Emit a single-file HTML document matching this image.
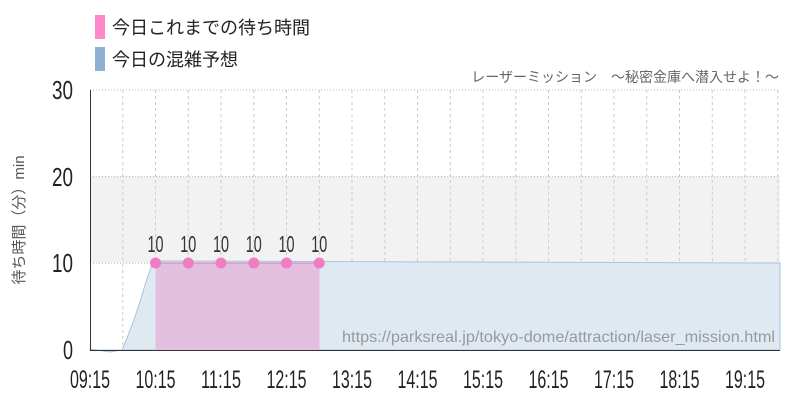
<!DOCTYPE html><html><head><meta charset="utf-8"><style>body{margin:0;background:#fff}svg{font-family:"Liberation Sans","Noto Sans CJK JP",sans-serif}</style></head><body>
<svg width="800" height="400" xmlns="http://www.w3.org/2000/svg">
<rect x="95" y="15" width="10" height="24" fill="#ff88c8"/>
<text x="112" y="34" font-size="18" fill="#222">今日これまでの待ち時間</text>
<rect x="95" y="47" width="10" height="24" fill="#8fb0d0"/>
<text x="112" y="66" font-size="18" fill="#222">今日の混雑予想</text>
<text x="779" y="82" font-size="14" fill="#666" text-anchor="end">レーザーミッション　～秘密金庫へ潜入せよ！～</text>
<rect x="90" y="176" width="690" height="87" fill="#f2f2f2"/>
<g stroke="#ccc" stroke-dasharray="3,3" stroke-width="1">
<line x1="122.8" y1="90" x2="122.8" y2="350"/><line x1="155.5" y1="90" x2="155.5" y2="350"/><line x1="188.3" y1="90" x2="188.3" y2="350"/><line x1="221" y1="90" x2="221" y2="350"/><line x1="253.8" y1="90" x2="253.8" y2="350"/><line x1="286.5" y1="90" x2="286.5" y2="350"/><line x1="319.3" y1="90" x2="319.3" y2="350"/><line x1="352" y1="90" x2="352" y2="350"/><line x1="384.8" y1="90" x2="384.8" y2="350"/><line x1="417.5" y1="90" x2="417.5" y2="350"/><line x1="450.3" y1="90" x2="450.3" y2="350"/><line x1="483" y1="90" x2="483" y2="350"/><line x1="515.8" y1="90" x2="515.8" y2="350"/><line x1="548.5" y1="90" x2="548.5" y2="350"/><line x1="581.3" y1="90" x2="581.3" y2="350"/><line x1="614" y1="90" x2="614" y2="350"/><line x1="646.8" y1="90" x2="646.8" y2="350"/><line x1="679.5" y1="90" x2="679.5" y2="350"/><line x1="712.3" y1="90" x2="712.3" y2="350"/><line x1="745" y1="90" x2="745" y2="350"/><line x1="777.8" y1="90" x2="777.8" y2="350"/>
</g>
<g stroke="#bbb" stroke-dasharray="1,2"><line x1="90" y1="90" x2="780" y2="90"/><line x1="90" y1="176.7" x2="780" y2="176.7"/><line x1="90" y1="263.3" x2="780" y2="263.3"/></g>
<path d="M90,349 L110,352 L122,350 Q135,320 145,285 L152,264 L160,261 L780,263 L780,350 L90,350 Z" fill="#dfe9f2" stroke="#a9c4dc" stroke-width="1"/>
<rect x="155.5" y="263" width="164" height="87" fill="#e2bedf"/>
<line x1="155.5" y1="263" x2="319.3" y2="263" stroke="#d080c0" stroke-width="1"/>
<g fill="#f07cc4"><circle cx="155.5" cy="263" r="5.5"/><circle cx="188.3" cy="263" r="5.5"/><circle cx="221" cy="263" r="5.5"/><circle cx="253.8" cy="263" r="5.5"/><circle cx="286.5" cy="263" r="5.5"/><circle cx="319.3" cy="263" r="5.5"/></g>
<g font-size="23" fill="#333" text-anchor="middle"><text x="155.5" y="252" textLength="16" lengthAdjust="spacingAndGlyphs">10</text><text x="188.3" y="252" textLength="16" lengthAdjust="spacingAndGlyphs">10</text><text x="221" y="252" textLength="16" lengthAdjust="spacingAndGlyphs">10</text><text x="253.8" y="252" textLength="16" lengthAdjust="spacingAndGlyphs">10</text><text x="286.5" y="252" textLength="16" lengthAdjust="spacingAndGlyphs">10</text><text x="319.3" y="252" textLength="16" lengthAdjust="spacingAndGlyphs">10</text></g>
<text x="342" y="342" font-size="16" fill="#999" textLength="433" lengthAdjust="spacingAndGlyphs">https://parksreal.jp/tokyo-dome/attraction/laser_mission.html</text>
<line x1="90.5" y1="90" x2="90.5" y2="350" stroke="#333"/>
<line x1="90" y1="350.5" x2="780" y2="350.5" stroke="#333"/>
<g font-size="26" fill="#222" text-anchor="end"><text x="73" y="99" textLength="21" lengthAdjust="spacingAndGlyphs">30</text><text x="73" y="186" textLength="21" lengthAdjust="spacingAndGlyphs">20</text><text x="73" y="272" textLength="21" lengthAdjust="spacingAndGlyphs">10</text><text x="73" y="359" textLength="10" lengthAdjust="spacingAndGlyphs">0</text></g>
<g font-size="25" fill="#222" text-anchor="middle"><text x="90" y="388" textLength="40" lengthAdjust="spacingAndGlyphs">09:15</text><text x="155.5" y="388" textLength="40" lengthAdjust="spacingAndGlyphs">10:15</text><text x="221" y="388" textLength="40" lengthAdjust="spacingAndGlyphs">11:15</text><text x="286.5" y="388" textLength="40" lengthAdjust="spacingAndGlyphs">12:15</text><text x="352" y="388" textLength="40" lengthAdjust="spacingAndGlyphs">13:15</text><text x="417.5" y="388" textLength="40" lengthAdjust="spacingAndGlyphs">14:15</text><text x="483" y="388" textLength="40" lengthAdjust="spacingAndGlyphs">15:15</text><text x="548.5" y="388" textLength="40" lengthAdjust="spacingAndGlyphs">16:15</text><text x="614" y="388" textLength="40" lengthAdjust="spacingAndGlyphs">17:15</text><text x="679.5" y="388" textLength="40" lengthAdjust="spacingAndGlyphs">18:15</text><text x="745" y="388" textLength="40" lengthAdjust="spacingAndGlyphs">19:15</text></g>
<text transform="translate(24,220) rotate(-90)" font-size="15" fill="#555" text-anchor="middle">待ち時間（分）min</text>
</svg></body></html>
